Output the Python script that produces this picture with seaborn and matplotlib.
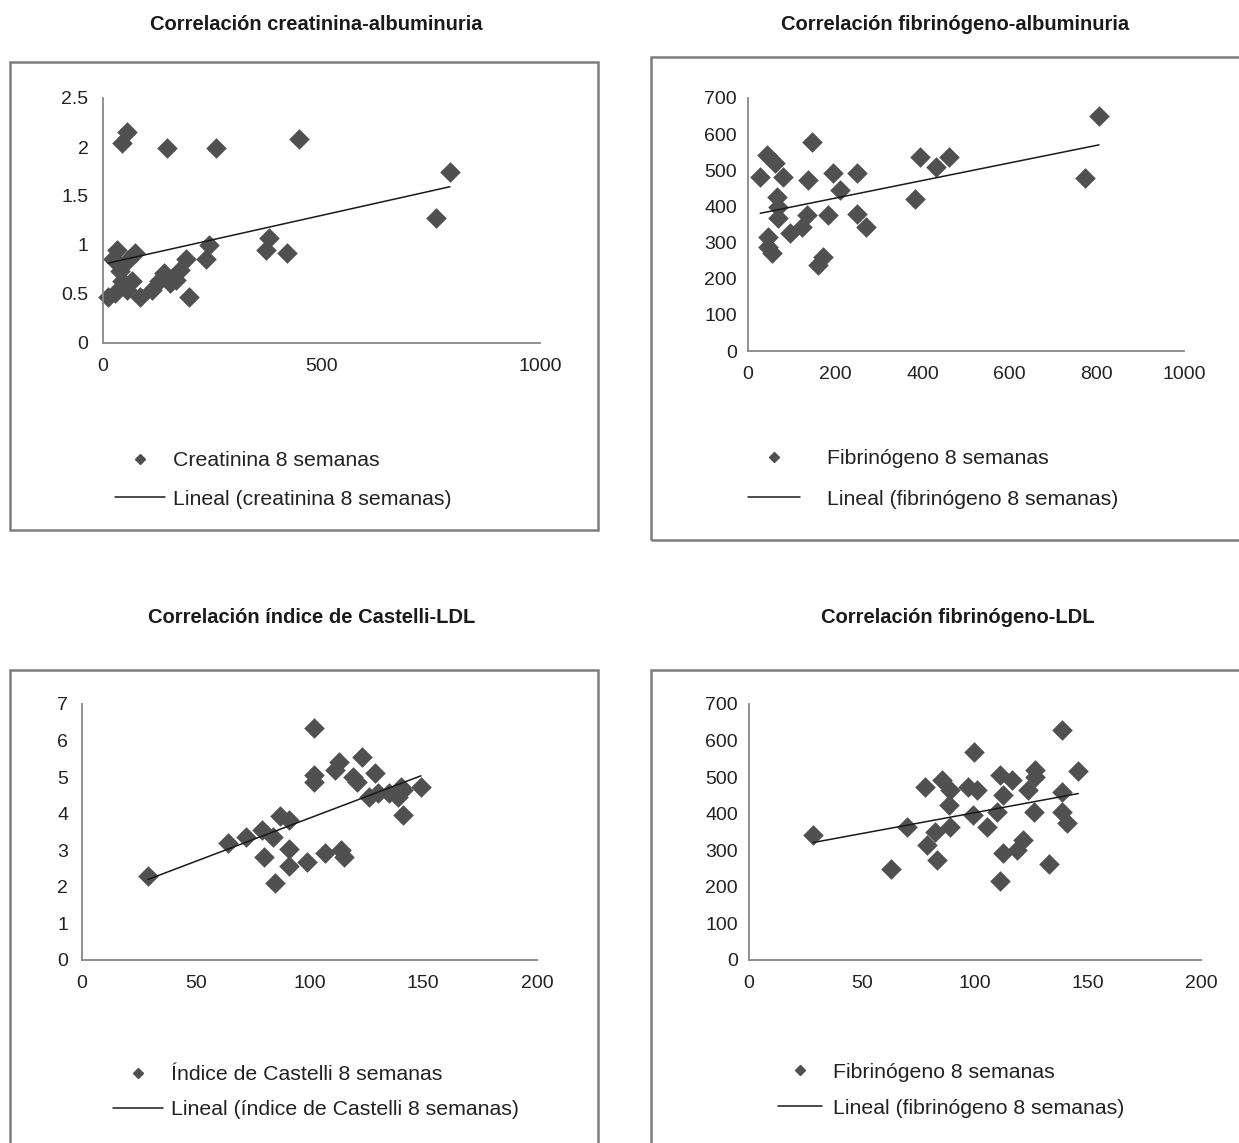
import numpy as np
import matplotlib
matplotlib.use("Agg")
import matplotlib.pyplot as plt
from matplotlib.patches import Rectangle
from matplotlib.lines import Line2D
import seaborn as sns

# ---------------- data ----------------
# Panel 1: creatinina vs albuminuria
alb_1 = [56, 44, 148, 260, 450, 794, 762, 381, 374, 422, 243, 236, 190, 178, 167, 155,
         140, 128, 113, 197, 86, 56, 29, 13, 67, 44, 40, 25, 33, 75, 59]
creat_1 = [2.15, 2.04, 1.99, 1.99, 2.08, 1.74, 1.28, 1.07, 0.95, 0.92, 1.00, 0.86, 0.86,
           0.74, 0.64, 0.61, 0.71, 0.63, 0.54, 0.47, 0.47, 0.54, 0.51, 0.47, 0.63, 0.63,
           0.73, 0.86, 0.95, 0.92, 0.85]

# Panel 2: fibrinogeno vs albuminuria
alb_2 = [43, 62, 28, 81, 138, 196, 211, 146, 66, 69, 69, 135, 184, 123, 96, 47, 47, 54,
         173, 161, 251, 271, 249, 394, 462, 431, 383, 805, 773]
fib_2 = [542, 519, 482, 482, 473, 492, 445, 579, 427, 399, 367, 376, 376, 344, 326, 316,
         289, 270, 261, 238, 493, 342, 379, 538, 538, 508, 420, 650, 479]

# Panel 3: indice de Castelli vs LDL
ldl_3 = [29, 64, 72, 79, 84, 80, 85, 87, 91, 91, 91, 99, 102, 102, 102, 107, 111, 113,
         114, 115, 119, 123, 121, 129, 126, 130, 135, 140, 141, 149, 141, 139]
cast_3 = [2.30, 3.19, 3.37, 3.55, 3.37, 2.82, 2.10, 3.94, 3.83, 3.03, 2.57, 2.69, 6.34,
          5.06, 4.88, 2.92, 5.20, 5.42, 3.01, 2.82, 5.01, 5.56, 4.88, 5.11, 4.47, 4.56,
          4.56, 4.74, 3.97, 4.74, 4.65, 4.46]

# Panel 4: fibrinogeno vs LDL
ldl_4 = [28.5, 62.8, 69.8, 77.9, 78.6, 82.3, 83.1, 85.3, 88.9, 88.6, 88.9, 97.0, 100.8,
         99.2, 99.7, 105.2, 109.6, 111.1, 116.2, 112.5, 112.5, 111.1, 118.5, 121.4, 123.6,
         126.5, 126.5, 126.1, 132.7, 138.4, 138.4, 138.4, 140.6, 145.7]
fib_4 = [342, 249, 364, 474, 314, 351, 273, 492, 465, 424, 364, 474, 465, 397, 568, 364,
         406, 506, 492, 451, 292, 217, 301, 328, 465, 520, 501, 406, 263, 629, 460, 406,
         374, 517]

titles = ["Correlación creatinina-albuminuria",
          "Correlación fibrinógeno-albuminuria",
          "Correlación índice de Castelli-LDL",
          "Correlación fibrinógeno-LDL"]
scatter_labels = ["Creatinina 8 semanas", "Fibrinógeno 8 semanas",
                  "Índice de Castelli 8 semanas", "Fibrinógeno 8 semanas"]
line_labels = ["Lineal (creatinina 8 semanas)", "Lineal (fibrinógeno 8 semanas)",
               "Lineal (índice de Castelli 8 semanas)", "Lineal (fibrinógeno 8 semanas)"]

xticks_alb = [0, 500, 1000]
xticks_alb2 = [0, 200, 400, 600, 800, 1000]
xticks_ldl = [0, 50, 100, 150, 200]
yticks_creat = [0, 0.5, 1, 1.5, 2, 2.5]
yticks_fib = [0, 100, 200, 300, 400, 500, 600, 700]
yticks_cast = [0, 1, 2, 3, 4, 5, 6, 7]

# ---------------- style ----------------
sns.set_theme(style="white")
plt.rcParams["font.family"] = ["Liberation Sans", "DejaVu Sans"]

W, H = 1239, 1143
fig = plt.figure(figsize=(W / 100, H / 100), dpi=100)
fig.patch.set_facecolor("white")

MARK = "#505050"
LINE = "#1a1a1a"
SPINE = "#888888"


def fig_rect(l, t, r, b):
    return [l / W, 1 - b / H, (r - l) / W, (b - t) / H]


panels = [
    dict(x=alb_1, y=creat_1, ax_px=(102.5, 98, 540, 343), xt=xticks_alb, yt=yticks_creat,
         frame=(10, 62, 598, 530), title_xy=(316, 25), ypad=10,
         leg=dict(left=115, cy=480, hl=50, tp=8, ls=0.9)),
    dict(x=alb_2, y=fib_2, ax_px=(748, 98, 1184, 351), xt=xticks_alb2, yt=yticks_fib,
         frame=(651, 57, 1260, 540), title_xy=(955, 25), ypad=8,
         leg=dict(left=748, cy=479, hl=52, tp=27, ls=1.0)),
    dict(x=ldl_3, y=cast_3, ax_px=(82, 704, 537, 960), xt=xticks_ldl, yt=yticks_cast,
         frame=(10, 670, 598, 1160), title_xy=(312, 617), ypad=10,
         leg=dict(left=113, cy=1092, hl=50, tp=8, ls=0.75)),
    dict(x=ldl_4, y=fib_4, ax_px=(749, 704, 1201, 960), xt=xticks_ldl, yt=yticks_fib,
         frame=(651, 670, 1260, 1160), title_xy=(958, 617), ypad=8,
         leg=dict(left=778, cy=1090, hl=44, tp=11, ls=0.8)),
]

LEG_FS = 15.3
leg_px = LEG_FS * 100 / 72

for i, p in enumerate(panels):
    # frame
    l, t, r, b = p["frame"]
    fig.add_artist(Rectangle((l / W, 1 - b / H), (r - l) / W, (b - t) / H,
                             transform=fig.transFigure, fill=False,
                             edgecolor="#7d7d7d", linewidth=1.8, zorder=0))
    # title
    tx, ty = p["title_xy"]
    fig.text(tx / W, 1 - ty / H, titles[i], ha="center", va="center",
             fontsize=14.5, fontweight="bold", color="#1a1a1a")

    ax = fig.add_axes(fig_rect(*p["ax_px"]))
    sns.regplot(x=np.asarray(p["x"], dtype=float), y=np.asarray(p["y"], dtype=float),
                ax=ax, ci=None, marker="D", truncate=True,
                scatter_kws=dict(s=110, color=MARK, alpha=1, linewidths=0,
                                 clip_on=False, zorder=2),
                line_kws=dict(color=LINE, lw=1.1, zorder=3))
    ax.set_xlim(p["xt"][0], p["xt"][-1])
    ax.set_ylim(p["yt"][0], p["yt"][-1])
    ax.set_xticks(p["xt"], [f"{v:g}" for v in p["xt"]])
    ax.set_yticks(p["yt"], [f"{v:g}" for v in p["yt"]])
    ax.set_xlabel("")
    ax.set_ylabel("")
    for s in ["top", "right"]:
        ax.spines[s].set_visible(False)
    for s in ["left", "bottom"]:
        ax.spines[s].set_color(SPINE)
        ax.spines[s].set_linewidth(1.3)
    ax.tick_params(axis="both", length=0, labelsize=14, colors="#222222")
    ax.tick_params(axis="x", pad=11)
    ax.tick_params(axis="y", pad=p["ypad"])
    ax.patch.set_alpha(0)

    lg = p["leg"]
    handles = [Line2D([], [], marker="D", ls="none", color=MARK, markersize=5.5),
               Line2D([], [], color=LINE, lw=1.1)]
    ax.legend(handles, [scatter_labels[i], line_labels[i]],
              loc="center left",
              bbox_to_anchor=(lg["left"] / W, 1 - lg["cy"] / H),
              bbox_transform=fig.transFigure, frameon=False,
              fontsize=LEG_FS, handlelength=lg["hl"] / leg_px,
              handletextpad=lg["tp"] / leg_px, labelspacing=lg["ls"],
              borderpad=0, borderaxespad=0, labelcolor="#222222")

fig.savefig("out.png", dpi=100, facecolor="white")
